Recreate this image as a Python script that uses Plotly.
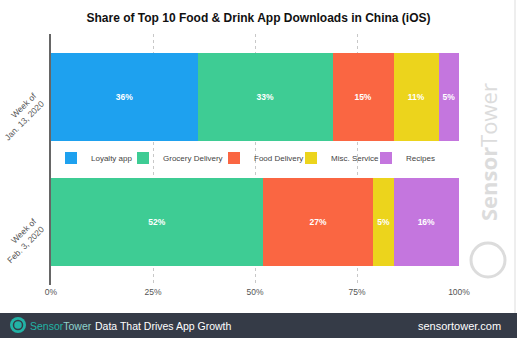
import plotly.graph_objects as go

categories = ["Week of<br>Jan. 13, 2020", "Week of<br>Feb. 3, 2020"]
series_names = ["Loyalty app", "Grocery Delivery", "Food Delivery", "Misc. Service", "Recipes"]
loyalty = [36, None]
grocery = [33, 52]
food = [15, 27]
misc = [11, 5]
recipes = [5, 16]
colors = ["#1ea1ef", "#3ecc94", "#fa6642", "#ecd41c", "#c476de"]
tick_vals = [0, 25, 50, 75, 100]
tick_text = ["0%", "25%", "50%", "75%", "100%"]

W, H = 517, 338
ml, mr, mt, mb = 51, 58, 34, 53
pw, ph = W - ml - mr, H - mt - mb

def px(x):
    return (x - ml) / pw

def py(y):
    return (H - mb - y) / ph

legend_text_x = [91, 163, 254, 331, 406]
legend_keys = ["legend", "legend2", "legend3", "legend4", "legend5"]

fig = go.Figure()
for name, vals, col, lk in zip(series_names, [loyalty, grocery, food, misc, recipes], colors, legend_keys):
    fig.add_trace(go.Bar(
        y=categories, x=vals, name=name, orientation="h",
        marker=dict(color=col, line=dict(width=0)),
        width=0.7, legend=lk,
        text=[f"<b>{v}%</b>" if v is not None else "" for v in vals],
        textposition="inside", insidetextanchor="middle",
        textfont=dict(color="white", size=8.5, family="Liberation Sans"),
        hoverinfo="skip",
    ))

legend_layout = {}
for lk, tx in zip(legend_keys, legend_text_x):
    legend_layout[lk] = dict(orientation="h", x=px(tx - 40), xanchor="left", y=py(158), yanchor="middle",
                             font=dict(size=8, color="#444"), bgcolor="rgba(0,0,0,0)",
                             itemwidth=30)

fig.update_layout(
    width=W, height=H,
    margin=dict(l=ml, r=mr, t=mt, b=mb, autoexpand=False),
    barmode="stack",
    plot_bgcolor="white", paper_bgcolor="white",
    font=dict(family="Liberation Sans", color="#333"),
    title=dict(text="<b>Share of Top 10 Food & Drink App Downloads in China (iOS)</b>",
               x=0.5, xanchor="center", y=1 - 18 / H, yanchor="middle",
               font=dict(size=12, color="#111")),
    xaxis=dict(range=[0, 100], tickvals=tick_vals, ticktext=tick_text, automargin=False,
               showgrid=True, gridcolor="#c8c8c8", griddash="dot", gridwidth=1,
               zeroline=False, showline=False, ticks="",
               tickfont=dict(size=8.5, color="#555")),
    yaxis=dict(autorange="reversed", showline=True, linecolor="#666", linewidth=1.5,
               tickangle=-45, ticks="", showgrid=False, automargin=False,
               ticklabelstandoff=6, ticklabelshift=-6,
               tickfont=dict(size=8.5, color="#555")),
    showlegend=True,
    **legend_layout,
)

# footer bar
fig.add_shape(type="rect", xref="paper", yref="paper",
              x0=px(0), x1=px(W), y0=py(H), y1=py(313),
              fillcolor="#353b47", line=dict(width=0), layer="above")
# footer logo
fig.add_shape(type="circle", xref="paper", yref="paper",
              x0=px(10), x1=px(26), y0=py(333), y1=py(317),
              fillcolor="#22b3a6", line=dict(width=0), layer="above")
fig.add_shape(type="circle", xref="paper", yref="paper",
              x0=px(13.5), x1=px(22.5), y0=py(329.5), y1=py(320.5),
              fillcolor="rgba(0,0,0,0)", line=dict(width=1.5, color="#353b47"), layer="above")
fig.add_annotation(xref="paper", yref="paper", x=px(28), y=py(325.5), xanchor="left", yanchor="middle",
                   text="<span style='color:#22b3a6'>Sensor</span><span style='color:#8fd3cc'>Tower</span>",
                   showarrow=False, font=dict(size=10.5, family="Liberation Sans"))
fig.add_annotation(xref="paper", yref="paper", x=px(93), y=py(325.5), xanchor="left", yanchor="middle",
                   text="Data That Drives App Growth", showarrow=False,
                   font=dict(size=10.5, color="white", family="Liberation Sans"))
fig.add_annotation(xref="paper", yref="paper", x=px(503), y=py(325.5), xanchor="right", yanchor="middle",
                   text="sensortower.com", showarrow=False,
                   font=dict(size=11, color="white", family="Liberation Sans"))

# watermark
fig.add_annotation(xref="paper", yref="paper", x=px(488), y=py(152), xanchor="center", yanchor="middle",
                   text="<b>Sensor</b>Tower", textangle=-90, showarrow=False,
                   font=dict(size=22, color="#dcdcdc", family="Open Sans"))
fig.add_shape(type="circle", xref="paper", yref="paper",
              x0=px(471), x1=px(505), y0=py(277), y1=py(243),
              fillcolor="rgba(0,0,0,0)", line=dict(width=3, color="#dcdcdc"))
fig.add_shape(type="line", xref="paper", yref="paper",
              x0=px(515), x1=px(515), y0=py(0), y1=py(313),
              line=dict(width=1, color="#dddddd"))

fig.write_html("out.html")
